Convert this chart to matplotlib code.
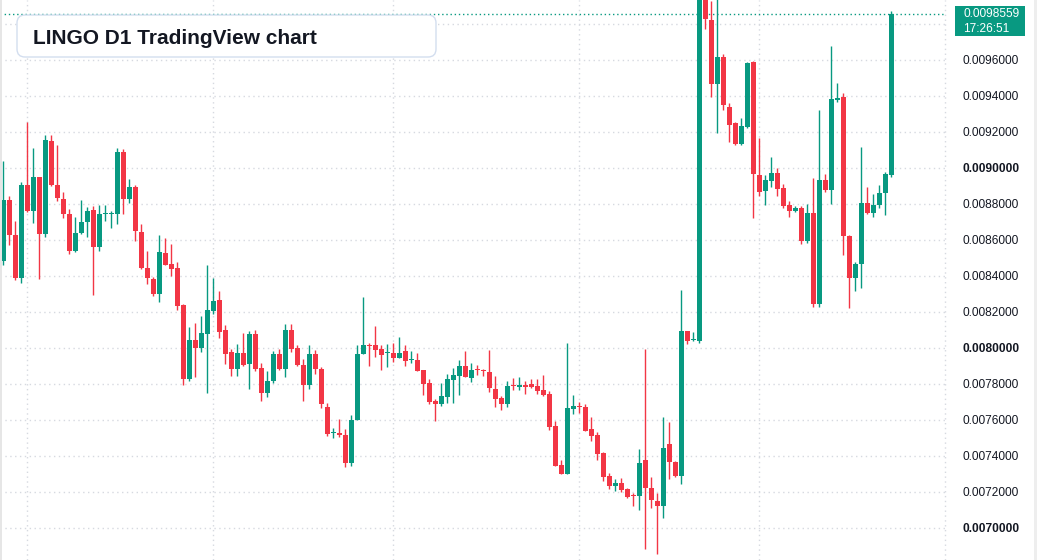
import matplotlib
matplotlib.use("Agg")
import matplotlib.pyplot as plt
from matplotlib.patches import FancyBboxPatch, Rectangle
from matplotlib.transforms import IdentityTransform

# LINGO daily candles
opens = [0.008481, 0.008824, 0.008630, 0.008387, 0.008907, 0.008759, 0.008950, 0.008631, 0.009152, 0.008907,
         0.008830, 0.008746, 0.008537, 0.008637, 0.008698, 0.008769, 0.008559, 0.008746, 0.008746, 0.008743,
         0.009089, 0.008826, 0.008896, 0.008646, 0.008444, 0.008385, 0.008298, 0.008530, 0.008467, 0.008444,
         0.008239, 0.007830, 0.008044, 0.008002, 0.008080, 0.008207, 0.008267, 0.008100, 0.007978, 0.007885,
         0.007972, 0.007909, 0.008080, 0.007891, 0.007748, 0.007818, 0.007969, 0.007881, 0.008102, 0.008002,
         0.007907, 0.007793, 0.007969, 0.007885, 0.007674, 0.007528, 0.007528, 0.007518, 0.007359, 0.007602,
         0.007966, 0.008019, 0.008019, 0.007996, 0.007974, 0.007974, 0.007946, 0.007983, 0.007933, 0.007933,
         0.007878, 0.007806, 0.007706, 0.007691, 0.007730, 0.007822, 0.007846, 0.007900, 0.007835, 0.007878,
         0.007872, 0.007867, 0.007772, 0.007722, 0.007691, 0.007789, 0.007785, 0.007794, 0.007800, 0.007789,
         0.007767, 0.007744, 0.007567, 0.007350, 0.007302, 0.007661, 0.007676, 0.007672, 0.007550, 0.007517,
         0.007417, 0.007289, 0.007235, 0.007250, 0.007217, 0.007180, 0.007180, 0.007378, 0.007224, 0.007151,
         0.007121, 0.007468, 0.007367, 0.007289, 0.008093, 0.008046, 0.008038, 0.009990, 0.009824, 0.009469,
         0.009618, 0.009341, 0.009252, 0.009135, 0.009230, 0.009591, 0.008963, 0.008874, 0.008930, 0.008974,
         0.008891, 0.008796, 0.008763, 0.008780, 0.008593, 0.008752, 0.008242, 0.008935, 0.008876, 0.009380,
         0.009396, 0.008624, 0.008387, 0.008466, 0.008807, 0.008748, 0.008794, 0.008861, 0.008959]
highs = [0.009041, 0.008846, 0.008707, 0.008924, 0.009254, 0.009111, 0.008952, 0.009185, 0.009185, 0.009130,
         0.008868, 0.008774, 0.008730, 0.008824, 0.008783, 0.008791, 0.008796, 0.008796, 0.008761, 0.009111,
         0.009105, 0.008940, 0.008907, 0.008691, 0.008541, 0.008393, 0.008630, 0.008610, 0.008578, 0.008478,
         0.008244, 0.008117, 0.008139, 0.008178, 0.008461, 0.008389, 0.008317, 0.008128, 0.007996, 0.008022,
         0.008083, 0.008096, 0.008102, 0.007919, 0.007874, 0.007985, 0.007996, 0.008135, 0.008135, 0.008019,
         0.007941, 0.008019, 0.007991, 0.007896, 0.007696, 0.007557, 0.007607, 0.007552, 0.007630, 0.008019,
         0.008281, 0.008030, 0.008124, 0.008019, 0.008024, 0.008030, 0.008063, 0.008017, 0.007983, 0.007972,
         0.007880, 0.007828, 0.007717, 0.007806, 0.007856, 0.007889, 0.007933, 0.007983, 0.007917, 0.007906,
         0.007883, 0.007989, 0.007844, 0.007733, 0.007817, 0.007833, 0.007839, 0.007817, 0.007828, 0.007828,
         0.007850, 0.007761, 0.007594, 0.007378, 0.008028, 0.007739, 0.007700, 0.007689, 0.007617, 0.007533,
         0.007422, 0.007306, 0.007272, 0.007278, 0.007222, 0.007194, 0.007439, 0.007994, 0.007285, 0.007196,
         0.007618, 0.007590, 0.007370, 0.008321, 0.008095, 0.008089, 0.010080, 0.010050, 0.009925, 0.009960,
         0.009634, 0.009363, 0.009257, 0.009280, 0.009591, 0.009596, 0.009168, 0.008963, 0.009063, 0.009002,
         0.008913, 0.008818, 0.008791, 0.008791, 0.008802, 0.008946, 0.009324, 0.008968, 0.009680, 0.009474,
         0.009418, 0.008626, 0.008480, 0.009118, 0.008896, 0.008857, 0.008907, 0.008980, 0.009874]
lows = [0.008463, 0.008570, 0.008380, 0.008359, 0.008755, 0.008693, 0.008381, 0.008617, 0.008900, 0.008815,
        0.008720, 0.008520, 0.008531, 0.008631, 0.008615, 0.008296, 0.008537, 0.008704, 0.008665, 0.008687,
        0.008743, 0.008804, 0.008593, 0.008437, 0.008354, 0.008287, 0.008254, 0.008460, 0.008402, 0.008213,
        0.007796, 0.007818, 0.007841, 0.007980, 0.007752, 0.008189, 0.008057, 0.007913, 0.007846, 0.007846,
        0.007900, 0.007770, 0.007870, 0.007704, 0.007726, 0.007804, 0.007878, 0.007837, 0.007976, 0.007900,
        0.007704, 0.007770, 0.007854, 0.007665, 0.007509, 0.007498, 0.007504, 0.007337, 0.007343, 0.007600,
        0.007964, 0.007902, 0.007952, 0.007880, 0.007896, 0.007924, 0.007944, 0.007902, 0.007919, 0.007872,
        0.007739, 0.007691, 0.007596, 0.007680, 0.007696, 0.007696, 0.007741, 0.007839, 0.007813, 0.007852,
        0.007846, 0.007757, 0.007674, 0.007657, 0.007674, 0.007769, 0.007769, 0.007746, 0.007780, 0.007746,
        0.007735, 0.007546, 0.007344, 0.007300, 0.007300, 0.007633, 0.007639, 0.007539, 0.007483, 0.007378,
        0.007263, 0.007218, 0.007207, 0.007202, 0.007169, 0.007124, 0.007102, 0.006883, 0.007109, 0.006854,
        0.007054, 0.007270, 0.007285, 0.007242, 0.008024, 0.008040, 0.008028, 0.009770, 0.009394, 0.009194,
        0.009321, 0.009146, 0.009130, 0.009130, 0.009224, 0.008724, 0.008846, 0.008796, 0.008896, 0.008846,
        0.008780, 0.008730, 0.008757, 0.008576, 0.008581, 0.008226, 0.008226, 0.008865, 0.008802, 0.009368,
        0.008515, 0.008220, 0.008315, 0.008331, 0.008746, 0.008726, 0.008776, 0.008737, 0.008948]
closes = [0.008824, 0.008626, 0.008387, 0.008907, 0.008759, 0.008950, 0.008631, 0.009156, 0.008904, 0.008831,
          0.008743, 0.008537, 0.008641, 0.008702, 0.008761, 0.008559, 0.008746, 0.008748, 0.008747, 0.009089,
          0.008826, 0.008896, 0.008648, 0.008443, 0.008387, 0.008298, 0.008535, 0.008463, 0.008441, 0.008235,
          0.007830, 0.008044, 0.008002, 0.008083, 0.008211, 0.008261, 0.008091, 0.007968, 0.007885, 0.007972,
          0.007907, 0.008080, 0.007881, 0.007748, 0.007818, 0.007969, 0.007881, 0.008102, 0.007996, 0.007904,
          0.007793, 0.007969, 0.007881, 0.007687, 0.007520, 0.007530, 0.007515, 0.007359, 0.007602, 0.007969,
          0.008019, 0.008013, 0.007991, 0.007963, 0.007976, 0.007946, 0.007974, 0.007930, 0.007935, 0.007874,
          0.007802, 0.007702, 0.007691, 0.007733, 0.007828, 0.007850, 0.007900, 0.007841, 0.007878, 0.007876,
          0.007870, 0.007780, 0.007719, 0.007691, 0.007789, 0.007787, 0.007794, 0.007785, 0.007785, 0.007763,
          0.007739, 0.007563, 0.007346, 0.007302, 0.007667, 0.007678, 0.007674, 0.007541, 0.007511, 0.007413,
          0.007285, 0.007235, 0.007250, 0.007213, 0.007174, 0.007178, 0.007361, 0.007220, 0.007153, 0.007121,
          0.007446, 0.007365, 0.007289, 0.008093, 0.008040, 0.008048, 0.010000, 0.009826, 0.009469, 0.009618,
          0.009347, 0.009241, 0.009135, 0.009235, 0.009585, 0.008965, 0.008868, 0.008935, 0.008974, 0.008885,
          0.008791, 0.008763, 0.008780, 0.008593, 0.008752, 0.008242, 0.008935, 0.008876, 0.009385, 0.009391,
          0.008620, 0.008387, 0.008468, 0.008807, 0.008748, 0.008796, 0.008863, 0.008968, 0.0098559]

price_ticks = [0.0070, 0.0072, 0.0074, 0.0076, 0.0078, 0.0080, 0.0082, 0.0084, 0.0086,
               0.0088, 0.0090, 0.0092, 0.0094, 0.0096]
bold_ticks = ["0.0070000", "0.0080000", "0.0090000"]
grid_prices = price_ticks + [0.0098]
month_starts = [4, 35, 65, 96, 126, 157]
last_price = "0.0098559"
countdown = "17:26:51"
title = "LINGO D1 TradingView chart"

UP = "#089981"
DOWN = "#F23645"
GRID = "#d6d9e0"
TEXT = "#131722"

W, H = 1037, 560
fig = plt.figure(figsize=(W / 100, H / 100), dpi=100)
ax = fig.add_axes([0, 0, 946 / W, 1])

# grid
for p in grid_prices:
    ax.axhline(p, color=GRID, lw=1, ls=(0, (1, 2.5)), zorder=0)
for m in month_starts:
    ax.axvline(m, color=GRID, lw=1, ls=(0, (1, 2.5)), zorder=0, clip_on=False)

# candles
xs = list(range(len(opens)))
cols = [UP if c >= o else DOWN for o, c in zip(opens, closes)]
ax.vlines(xs, lows, highs, colors=cols, lw=1, zorder=2)
bottoms = [min(o, c) for o, c in zip(opens, closes)]
heights = [max(abs(c - o), 0.0000055) for o, c in zip(opens, closes)]
ax.bar(xs, heights, bottom=bottoms, width=0.8, color=cols, linewidth=0, zorder=3)

# last price line
ax.axhline(float(last_price), color=UP, lw=1, ls=(0, (1, 2)), zorder=1)

ax.set_xlim(-0.55, 157.1)
ax.set_ylim(0.006822, 0.009933)
for s in ax.spines.values():
    s.set_visible(False)
ax.set_xticks([])
ax.yaxis.tick_right()
ax.set_yticks(price_ticks)
ax.set_yticklabels([f"{p:.7f}" for p in price_ticks])
ax.tick_params(axis="y", length=0, pad=12, labelsize=8.6, labelcolor=TEXT)
for lab in ax.get_yticklabels():
    lab.set_fontfamily("Liberation Sans")
    if lab.get_text() in bold_ticks:
        lab.set_fontweight("bold")

# title box
px = IdentityTransform()
fig.add_artist(FancyBboxPatch((17, H - 57), 419, 42, boxstyle="round,pad=0,rounding_size=8",
                              transform=px, facecolor="white", edgecolor="#d3deef", lw=1))
fig.text(33 / W, 1 - 38 / H, title, fontsize=15, fontweight="bold", family="Liberation Sans",
         color=TEXT, va="center", ha="left")

# last price label
fig.add_artist(Rectangle((955, H - 36), 70, 30, transform=px, facecolor=UP, edgecolor="none"))
fig.text(963 / W, 1 - 14 / H, last_price, fontsize=8.6, family="Liberation Sans", color="white",
         va="center", ha="left")
fig.text(963 / W, 1 - 29 / H, countdown, fontsize=8.6, family="Liberation Sans", color="white",
         va="center", ha="left")

# thin frame strips at the picture edges
fig.add_artist(Rectangle((0, 0), 1.5, H, transform=px, facecolor="#e6e6e6", edgecolor="none"))
fig.add_artist(Rectangle((W - 3, 0), 3, H, transform=px, facecolor="#eeeeee", edgecolor="none"))

fig.savefig("out.png", dpi=100)
